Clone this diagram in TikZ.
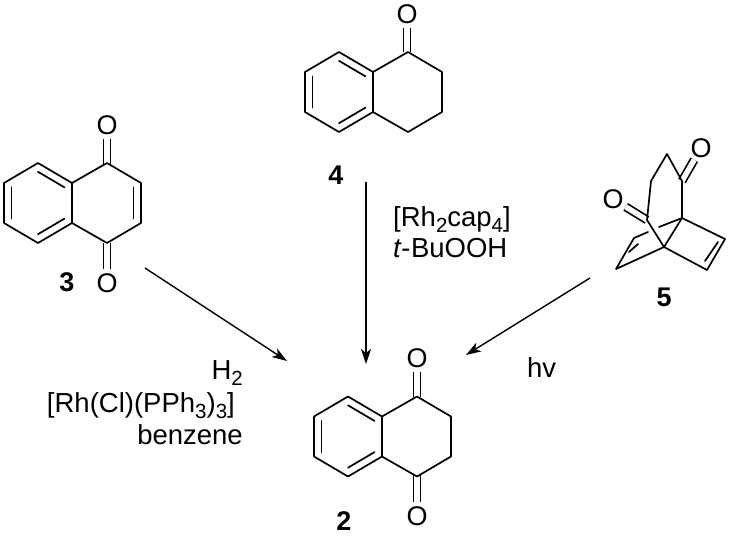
\documentclass[tikz,border=0pt]{standalone}
\usepackage{fontspec}
\setmainfont{Liberation Sans}
\usetikzlibrary{calc,arrows.meta}
\tikzstyle{bond}=[line width=1.7pt,line cap=round,line join=round]
\tikzstyle{dbond}=[line width=1.7pt,double,double distance=5.4pt]
\tikzstyle{atom}=[inner sep=4pt,font=\fontsize{27}{27}\selectfont]
\tikzstyle{num}=[inner sep=0pt,font=\fontsize{27}{27}\selectfont\bfseries]
\tikzstyle{txt}=[inner sep=0pt,font=\fontsize{27.5}{30}\selectfont]
\tikzstyle{rxn}=[line width=1.4pt,-{Stealth[length=15pt,width=10pt,inset=4pt]}]

% subscript of a formula
\newcommand{\lowsub}[1]{\raisebox{-6pt}{\fontsize{20.5}{20.5}\selectfont #1}}
% inner line of a ring double bond
\newcommand{\inbond}[3]{\draw[bond] ($(#1)!.22!(#3)$) -- ($(#2)!.22!(#3)$);}

% benzo ring with second ring: #1 prefix, #2 x, #3 y of the left ring centre
\newcommand{\skeleton}[3]{
  \coordinate (#1c1) at (#2,#3);
  \coordinate (#1c2) at (#2+68.5,#3);
  \coordinate (#1t) at (#2,#3-40);
  \coordinate (#1ul) at (#2-34,#3-20);
  \coordinate (#1ll) at (#2-34,#3+20);
  \coordinate (#1b) at (#2,#3+40);
  \coordinate (#1jb) at (#2+34,#3+20);
  \coordinate (#1jt) at (#2+34,#3-20);
  \coordinate (#1rt) at (#2+69,#3-40);
  \coordinate (#1ur) at (#2+103,#3-20);
  \coordinate (#1lr) at (#2+103,#3+20);
  \coordinate (#1rb) at (#2+69,#3+40);
  \draw[bond] (#1jt) -- (#1t) -- (#1ul) -- (#1ll) -- (#1b) -- (#1jb) -- cycle;
  \draw[bond] (#1jt) -- (#1rt) -- (#1ur) -- (#1lr) -- (#1rb) -- (#1jb);
  \inbond{#1t}{#1jt}{#1c1}
  \inbond{#1ul}{#1ll}{#1c1}
  \inbond{#1b}{#1jb}{#1c1}
}

\begin{document}
\begin{tikzpicture}[x=1pt,y=-1pt]
  \useasboundingbox (0,0) rectangle (730,536);

  % 3
  \node[atom] (o3a) at (107,125) {O};
  \node[atom] (o3b) at (107,283) {O};
  \draw[dbond] (107,164) -- (o3a);
  \draw[dbond] (107,243) -- (o3b);
  \skeleton{p}{38}{203}
  \inbond{pur}{plr}{pc2}
  \node[num] (n3) at (67,282) {3};

  % 4
  \node[atom] (o4) at (407,14) {O};
  \draw[dbond] (407,52) -- (o4);
  \skeleton{q}{339}{92}
  \node[num] (n4) at (336,175) {4};

  % 2
  \node[atom] (o2a) at (417,358) {O};
  \node[atom] (o2b) at (417,516) {O};
  \draw[dbond] (417,397) -- (o2a);
  \draw[dbond] (417,475) -- (o2b);
  \skeleton{r}{348}{436.5}
  \node[num] (n2) at (344,521.5) {2};

  % 5
  \coordinate (c1) at (682,181);
  \coordinate (c2) at (667,154);
  \coordinate (c3) at (651,181);
  \coordinate (c4) at (647,220);
  \coordinate (a) at (682,218);
  \coordinate (b) at (664,247);
  \coordinate (e1) at (725,239);
  \coordinate (e2) at (707,270);
  \coordinate (f1) at (616,269);
  \coordinate (f2) at (634,238);
  \coordinate (g1) at (648,232);
  \coordinate (g2) at (659,227);
  \coordinate (e3) at (718,242);
  \coordinate (e4) at (705,261);
  \coordinate (f3) at (629,252);
  \coordinate (f4) at (638,244);
  \node[atom,inner sep=2pt] (o5a) at (701,148) {O};
  \node[atom,inner sep=2pt] (o5b) at (613,199) {O};
  \draw[dbond] (c1) -- (o5a);
  \draw[dbond] (c4) -- (o5b);
  \draw[bond] (a) -- (c1) -- (c2) -- (c3) -- (c4) -- (b) -- (a) -- (e1) -- (e2) -- (b) -- (f1) -- (f2) -- (g1);
  \draw[bond] (g2) -- (a);
  \draw[bond] (e3) -- (e4);
  \draw[bond] (f3) -- (f4);
  \node[num] (n5) at (664,297) {5};

  % arrows
  \coordinate (s3) at (145,268);
  \coordinate (t3) at (287,361);
  \coordinate (s4) at (366,182);
  \coordinate (t4) at (366,364);
  \coordinate (s5) at (590,278);
  \coordinate (t5) at (466,355);
  \draw[rxn] (s3) -- (t3);
  \draw[rxn] (s4) -- (t4);
  \draw[rxn] (s5) -- (t5);

  % conditions
  \node[txt,anchor=base east] (h2) at (243,379) {H\lowsub{2}};
  \node[txt,anchor=base east] (rh) at (235,412) {[Rh(Cl)(PPh\lowsub{3})\lowsub{3}]};
  \node[txt,anchor=base east] (bz) at (243,444) {benzene};
  \node[txt,anchor=base west] (cap) at (393,226) {[Rh\lowsub{2}cap\lowsub{4}]};
  \node[txt,anchor=base west] (tbu) at (393,257) {\textit{t-}\hspace{1pt}BuOOH};
  \node[txt,anchor=base west] (hv) at (527,377) {hv};
\end{tikzpicture}
\end{document}
